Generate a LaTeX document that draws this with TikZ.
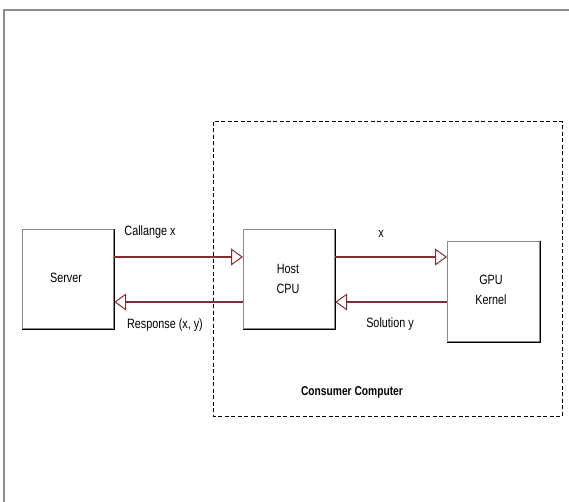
\documentclass[tikz,border=0pt]{standalone}
\usepackage{fontspec}
\setmainfont[FakeStretch=0.8]{Liberation Sans}
\usetikzlibrary{arrows.meta}
\definecolor{arrowred}{HTML}{7F3030}
\definecolor{boxgray}{HTML}{8A8A8A}
\begin{document}
\begin{tikzpicture}[x=1pt,y=-1pt,
  blk/.style={draw=boxgray,line width=1.2pt,fill=white,inner sep=0pt,anchor=north west},
  lbl/.style={font=\fontsize{13.5}{20}\selectfont,inner sep=0pt},
  flow/.style={draw=arrowred,line width=1.3pt,-{Triangle[open,length=12pt,width=17pt,line width=1pt]}}]
\useasboundingbox (0,0) rectangle (569,502);
\fill[white] (0,0) rectangle (569,502);
% outer frame
\draw[draw=gray!90,line width=2pt] (4,502) -- (4,10) -- (569,10);
% dashed group
\draw[dashed,line width=1pt,dash pattern=on 4pt off 2.5pt] (213,122) rectangle (562,416);
\node[font=\bfseries\fontsize{12.8}{14}\selectfont,inner sep=0pt] (cc) at (352,392) {Consumer Computer};
% boxes
\node[blk,minimum width=91pt,minimum height=99pt] (server) at (22,229) {};
\node[blk,minimum width=91pt,minimum height=99pt] (host) at (243,229) {};
\node[blk,minimum width=92pt,minimum height=100pt] (gpu) at (447,241) {};
\foreach \b in {server,host,gpu}{
  \draw[black,line width=1.3pt] (\b.north east) -- (\b.south east) -- (\b.south west);
}
\node[lbl] (serverT) at (66,278) {Server};
\node[lbl,align=center] (hostT) at (288,279) {Host\\CPU};
\node[lbl,align=center] (gpuT) at (491,290) {GPU\\Kernel};
% arrow levels
\coordinate (top) at (0,257);
\coordinate (bot) at (0,302);
\draw[flow] (server.east |- top) -- (host.west |- top);
\draw[flow] (host.west |- bot) -- (server.east |- bot);
\draw[flow] (host.east |- top) -- (gpu.west |- top);
\draw[flow] (gpu.west |- bot) -- (host.east |- bot);
% labels
\node[lbl] (l1) at (150,232) {Callange x};
\node[lbl] (l2) at (165,325) {Response (x, y)};
\node[lbl] (l3) at (381,234) {x};
\node[lbl] (l4) at (390,324) {Solution y};
\end{tikzpicture}
\end{document}
